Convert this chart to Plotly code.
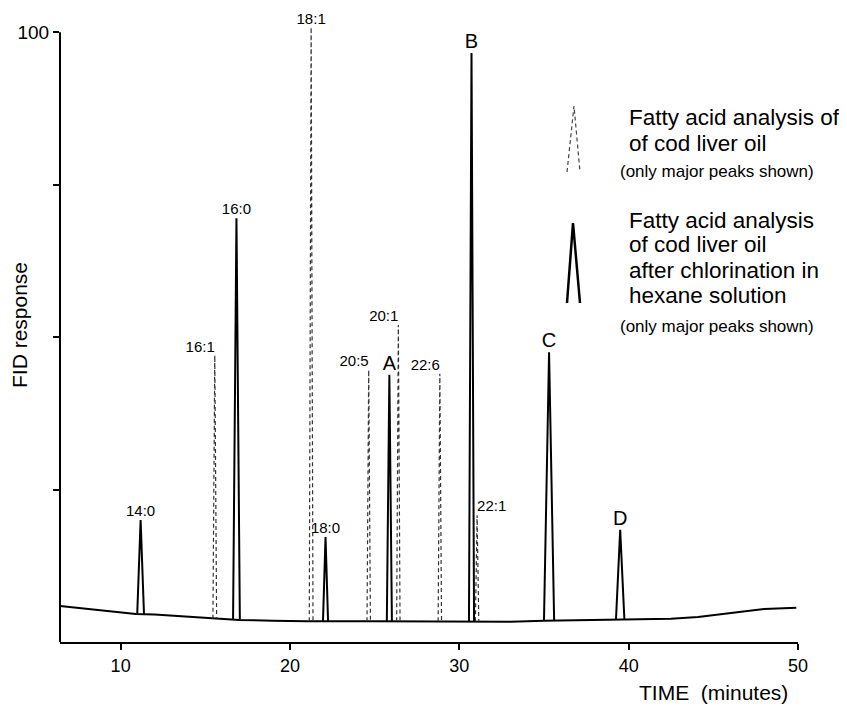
import plotly.graph_objects as go

# ---------------- data ----------------
baseline_t = [6.42, 8.0, 8.8, 10.9, 12.0, 14.0, 15.6, 17.0, 19.0, 21.0, 25.0, 30.0, 33.0, 35.0, 39.0,
              41.0, 42.5, 44.1, 46.0, 48.0, 49.9]
baseline_y = [5.9, 5.4, 5.2, 4.6, 4.5, 4.1, 3.8, 3.6, 3.5, 3.4, 3.4, 3.4, 3.3, 3.5, 3.6,
              3.7, 3.8, 4.1, 4.75, 5.4, 5.6]

solid_names = ["14:0", "16:0", "18:0", "A", "B", "C", "D"]
solid_times = [11.18, 16.84, 22.10, 25.87, 30.72, 35.30, 39.50]
solid_heights = [20.0, 69.5, 17.2, 43.8, 96.6, 47.5, 18.4]
solid_bases = [4.6, 3.7, 3.4, 3.4, 3.4, 3.5, 3.6]
solid_widths = [0.4, 0.4, 0.3, 0.3, 0.3, 0.6, 0.5]

dashed_names = ["16:1", "18:1", "20:5", "20:1", "22:6", "22:1"]
dashed_times = [15.56, 21.25, 24.65, 26.40, 28.85, 31.05]
dashed_heights = [47.0, 100.8, 44.6, 52.0, 44.0, 20.8]
dashed_bases = [3.8, 3.4, 3.4, 3.4, 3.4, 3.4]
dashed_widths = [0.22, 0.22, 0.2, 0.2, 0.2, 0.2]

x_ticks = [10, 20, 30, 40, 50]
y_ticks = [25, 50, 75, 100]
y_ticktext = ["", "", "", "100"]

FONT = "Liberation Sans, Arial, Helvetica, sans-serif"


def triangles(times, heights, bases, widths):
    xs, ys = [], []
    for t, h, b, w in zip(times, heights, bases, widths):
        xs += [t - w / 2, t, t + w / 2, None]
        ys += [b, h, b, None]
    return xs, ys


fig = go.Figure()

# baseline
fig.add_trace(go.Scatter(x=baseline_t, y=baseline_y, mode="lines",
                         line=dict(color="black", width=2), hoverinfo="skip", showlegend=False))

# dashed peaks (cod liver oil)
dx, dy = triangles(dashed_times, dashed_heights, dashed_bases, dashed_widths)
fig.add_trace(go.Scatter(x=dx, y=dy, mode="lines",
                         line=dict(color="#333333", width=1.2, dash="4px,3px"),
                         hoverinfo="skip", showlegend=False))

# solid peaks (after chlorination)
sx, sy = triangles(solid_times, solid_heights, solid_bases, solid_widths)
fig.add_trace(go.Scatter(x=sx, y=sy, mode="lines",
                         line=dict(color="black", width=2),
                         hoverinfo="skip", showlegend=False))

# labels
dashed_pos = ["top left", "top center", "top left", "top left", "top left", "top right"]
fig.add_trace(go.Scatter(x=dashed_times, y=dashed_heights, mode="text", text=dashed_names,
                         textposition=dashed_pos, cliponaxis=False,
                         textfont=dict(family=FONT, size=15, color="black"),
                         hoverinfo="skip", showlegend=False))
solid_sizes = [15 if ":" in n else 20 for n in solid_names]
fig.add_trace(go.Scatter(x=solid_times, y=solid_heights, mode="text", text=solid_names,
                         textposition="top center", cliponaxis=False,
                         textfont=dict(family=FONT, size=solid_sizes, color="black"),
                         hoverinfo="skip", showlegend=False))

# pixel helpers for legend / titles (plot area on screen: x 60..798, y 23..642)
def px(x):
    return (x - 60) / 738.0


def py(y):
    return (642 - y) / 619.0


shapes = [
    # y axis line 0..100
    dict(type="line", xref="paper", yref="y", x0=0, x1=0, y0=0, y1=100,
         line=dict(color="black", width=2)),
    # legend icon: dashed peak
    dict(type="path", xref="paper", yref="paper",
         path=f"M {px(567)} {py(172)} L {px(574)} {py(106)} L {px(580)} {py(172)}",
         line=dict(color="#444444", width=1.2, dash="4px,3px")),
    # legend icon: solid peak
    dict(type="path", xref="paper", yref="paper",
         path=f"M {px(567)} {py(303)} L {px(573)} {py(223)} L {px(580)} {py(303)}",
         line=dict(color="black", width=2.5)),
]

annotations = []
legend_lines = [
    ("Fatty acid analysis of", 627, 118, 22.5),
    ("of cod liver oil", 627, 143, 22.5),
    ("(only major peaks shown)", 618, 171, 17),
    ("Fatty acid analysis", 627, 220, 22.5),
    ("of cod liver oil", 627, 245, 22.5),
    ("after chlorination in", 627, 270, 22.5),
    ("hexane solution", 627, 295, 22.5),
    ("(only major peaks shown)", 618, 326, 17),
]
for txt, x, y, s in legend_lines:
    annotations.append(dict(text=txt, xref="paper", yref="paper", x=px(x), y=py(y),
                            xanchor="left", yanchor="middle", showarrow=False,
                            font=dict(family=FONT, size=s, color="black")))

annotations.append(dict(text="TIME\u00a0\u00a0(minutes)", xref="paper", yref="paper",
                        x=px(790), y=py(692), xanchor="right", yanchor="middle",
                        showarrow=False, font=dict(family=FONT, size=21, color="black")))
annotations.append(dict(text="FID response", xref="paper", yref="paper",
                        x=px(19), y=py(325), xanchor="center", yanchor="middle", textangle=-90,
                        showarrow=False, font=dict(family=FONT, size=21, color="black")))

# the page body adds an 8px offset, so the figure is 8px smaller on each axis
fig.update_layout(
    width=839, height=698,
    margin=dict(l=52, r=49, t=15, b=64),
    paper_bgcolor="white", plot_bgcolor="white",
    shapes=shapes, annotations=annotations,
    font=dict(family=FONT, color="black"),
    xaxis=dict(range=[6.42, 50], tickvals=x_ticks, ticks="outside", ticklen=6, tickwidth=1.5,
               tickcolor="black", showline=True, linecolor="black", linewidth=2,
               showgrid=False, zeroline=False, automargin=False,
               tickfont=dict(family=FONT, size=18, color="black")),
    yaxis=dict(range=[0, 101.5], tickvals=y_ticks, ticktext=y_ticktext, ticks="outside",
               ticklen=6, tickwidth=1.5, tickcolor="black", showline=False,
               showgrid=False, zeroline=False, automargin=False,
               tickfont=dict(family=FONT, size=19, color="black")),
)

fig.write_html("out.html")
